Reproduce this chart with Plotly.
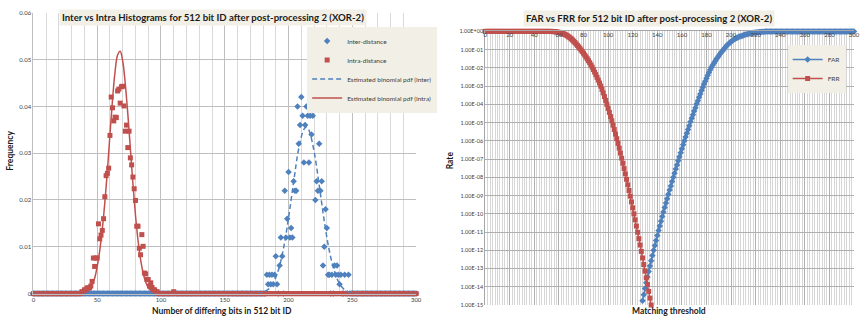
import plotly.graph_objects as go

# ---------------- data ----------------
BITS = list(range(0, 301))

# Histogram bins that are not zero (all other bins 0..300 read as 0)
INTER_NONZERO = {
    183: 0.004, 184: 0.002, 185: 0.004, 186: 0.002, 187: 0.004, 188: 0.002,
    189: 0.004, 190: 0.008, 191: 0.002, 193: 0.006, 194: 0.012, 195: 0.008,
    197: 0.022, 198: 0.012, 199: 0.016, 200: 0.026, 201: 0.012, 202: 0.014,
    203: 0.012, 204: 0.024, 205: 0.022, 206: 0.022, 207: 0.040, 208: 0.032,
    209: 0.036, 210: 0.042, 211: 0.038, 212: 0.028, 213: 0.036, 214: 0.040,
    215: 0.038, 216: 0.028, 217: 0.038, 218: 0.034, 219: 0.038, 220: 0.040,
    221: 0.020, 222: 0.024, 223: 0.022, 224: 0.032, 225: 0.022, 226: 0.024,
    227: 0.006, 228: 0.010, 229: 0.018, 230: 0.014, 231: 0.004, 232: 0.004,
    234: 0.004, 236: 0.006, 237: 0.004, 238: 0.006, 239: 0.004, 240: 0.002,
    241: 0.004, 244: 0.004, 247: 0.004,
}
INTRA_NONZERO = {
    38: 0.0004, 39: 0.0004, 40: 0.0008, 41: 0.0008, 42: 0.0012, 43: 0.0012,
    44: 0.0012, 45: 0.0016, 46: 0.0026, 47: 0.0076, 48: 0.0058, 49: 0.0076,
    50: 0.0076, 51: 0.0149, 52: 0.0117, 53: 0.0125, 54: 0.0135, 55: 0.0160,
    56: 0.0207, 57: 0.0252, 58: 0.0257, 59: 0.0268, 60: 0.0338, 61: 0.0420,
    62: 0.0397, 63: 0.0369, 64: 0.0377, 65: 0.0376, 66: 0.0433, 67: 0.0437,
    68: 0.0407, 69: 0.0442, 70: 0.0443, 71: 0.0401, 72: 0.0347, 73: 0.0360,
    74: 0.0312, 75: 0.0347, 76: 0.0290, 77: 0.0275, 78: 0.0249, 79: 0.0224,
    80: 0.0199, 81: 0.0144, 82: 0.0144, 83: 0.0097, 84: 0.0083, 85: 0.0126,
    86: 0.0101, 87: 0.0044, 88: 0.0042, 89: 0.0030, 90: 0.0030, 91: 0.0016,
    92: 0.0023, 93: 0.0013, 94: 0.0008, 95: 0.0008, 96: 0.0004, 97: 0.0004,
    110: 0.0004,
}
INTER_FREQ = [INTER_NONZERO.get(b, 0.0) for b in BITS]
INTRA_FREQ = [INTRA_NONZERO.get(b, 0.0) for b in BITS]

# Estimated binomial pdf curves
INTER_PDF_X = [0, 172, 176, 180, 184, 188, 192, 196, 200, 204, 208, 212, 214,
               216, 220, 224, 228, 232, 236, 240, 244, 248, 252, 256, 300]
INTER_PDF_Y = [0, 0.00002, 0.0001, 0.0003, 0.0009, 0.0023, 0.0050, 0.0096,
               0.0162, 0.0239, 0.0310, 0.0351, 0.0356, 0.0349, 0.0304, 0.0232,
               0.0155, 0.0091, 0.0047, 0.0021, 0.0008, 0.0003, 0.0001, 0.00002, 0]
INTRA_PDF_X = [0, 30, 36, 40, 44, 48, 50, 52, 54, 56, 58, 60, 62, 64, 66, 68,
               70, 72, 74, 76, 78, 80, 82, 84, 86, 88, 90, 94, 98, 104, 300]
INTRA_PDF_Y = [0, 0, 0.00004, 0.0002, 0.0009, 0.0033, 0.0058, 0.0092, 0.0138,
               0.0195, 0.0262, 0.0340, 0.0414, 0.0474, 0.0510, 0.0518, 0.0497,
               0.0449, 0.0384, 0.0310, 0.0235, 0.0168, 0.0114, 0.0073, 0.0044,
               0.0025, 0.0013, 0.0003, 0.00006, 0, 0]

# FAR / FRR, read as log10(rate) off the log axis
THRESHOLDS = list(range(0, 301))
FRR_LOG10 = [0.0] * 55 + [
    -0.01, -0.015, -0.02, -0.03, -0.04, -0.055, -0.07, -0.09, -0.115, -0.14,   # 55-64
    -0.17, -0.21, -0.25, -0.30, -0.35, -0.41, -0.47, -0.54, -0.61, -0.69,      # 65-74
    -0.77, -0.85, -0.93, -1.02, -1.11, -1.20, -1.30, -1.40, -1.50, -1.61,      # 75-84
    -1.72, -1.84, -1.96, -2.09, -2.23, -2.37, -2.52, -2.67, -2.83, -3.00,      # 85-94
    -3.18, -3.37, -3.57, -3.78, -4.00, -4.22, -4.44, -4.67, -4.90, -5.14,      # 95-104
    -5.38, -5.63, -5.88, -6.14, -6.40, -6.67, -6.95, -7.23, -7.52, -7.81,      # 105-114
    -8.11, -8.41, -8.72, -9.03, -9.35, -9.67, -10.00, -10.33, -10.67, -11.01,  # 115-124
    -11.36, -11.71, -12.06, -12.42, -12.78, -13.14, -13.51, -13.88, -14.25,    # 125-133
    -14.62, -15.00,                                                            # 134-135
]
FAR_START = 128
FAR_LOG10 = [
    -14.77, -14.43, -14.10, -13.78, -13.47, -13.16, -12.86, -12.57, -12.29, -12.00,  # 128-137
    -11.73, -11.46, -11.19, -10.92, -10.67, -10.41, -10.15, -9.90, -9.66, -9.41,     # 138-147
    -9.17, -8.93, -8.70, -8.47, -8.23, -8.00, -7.77, -7.55, -7.32, -7.09,            # 148-157
    -6.87, -6.65, -6.43, -6.22, -6.00, -5.79, -5.58, -5.38, -5.17, -4.96,            # 158-167
    -4.76, -4.57, -4.37, -4.18, -3.98, -3.80, -3.61, -3.43, -3.24, -3.06,            # 168-177
    -2.89, -2.73, -2.57, -2.41, -2.25, -2.10, -1.97, -1.85, -1.74, -1.63,            # 178-187
    -1.53, -1.43, -1.33, -1.24, -1.15, -1.07, -0.98, -0.90, -0.82, -0.75,            # 188-197
    -0.68, -0.62, -0.56, -0.51, -0.46, -0.42, -0.38, -0.345, -0.31, -0.285,          # 198-207
    -0.26, -0.235, -0.21, -0.19, -0.17, -0.152, -0.135, -0.12, -0.105, -0.09,        # 208-217
    -0.08, -0.07, -0.06, -0.05, -0.042, -0.035, -0.029, -0.024, -0.019, -0.015,      # 218-227
    -0.012, -0.009, -0.007, -0.005, -0.004, -0.003, -0.002, -0.0015, -0.001, -0.0007,  # 228-237
    -0.0005, -0.0003, -0.0002,                                                       # 238-240
] + [0.0] * 60                                                                       # 241-300
FRR = [10 ** v for v in FRR_LOG10]
FAR = [10 ** v for v in FAR_LOG10]
FRR_X = THRESHOLDS[:len(FRR)]
FAR_X = THRESHOLDS[FAR_START:FAR_START + len(FAR)]

RATE_TICKS = [10.0 ** (-k) for k in range(0, 16)]
RATE_LABELS = ["1.00E+00"] + ["1.00E-%02d" % k for k in range(1, 16)]

# ---------------- styling ----------------
BLUE = "#4F81BD"
RED = "#C0504D"
BEIGE = "#F2F0E6"
FONT = "Lato"
TICKC = "#404040"

fig = go.Figure()

fig.add_trace(go.Scatter(x=BITS, y=INTER_FREQ, mode="markers", name="Inter-distance",
                         marker=dict(symbol="diamond", size=5, color=BLUE),
                         cliponaxis=False, xaxis="x", yaxis="y", legend="legend"))
fig.add_trace(go.Scatter(x=BITS, y=INTRA_FREQ, mode="markers", name="Intra-distance",
                         marker=dict(symbol="square", size=5, color=RED),
                         cliponaxis=False, xaxis="x", yaxis="y", legend="legend"))
fig.add_trace(go.Scatter(x=INTER_PDF_X, y=INTER_PDF_Y, mode="lines",
                         name="Estimated binomial pdf (Inter)",
                         line=dict(color=BLUE, width=1.5, dash="5px,3px", shape="spline"),
                         xaxis="x", yaxis="y", legend="legend"))
fig.add_trace(go.Scatter(x=INTRA_PDF_X, y=INTRA_PDF_Y, mode="lines",
                         name="Estimated binomial pdf (Intra)",
                         line=dict(color=RED, width=1.5, shape="spline"),
                         xaxis="x", yaxis="y", legend="legend"))

fig.add_trace(go.Scatter(x=FAR_X, y=FAR, mode="lines+markers", name="FAR",
                         line=dict(color=BLUE, width=1.5),
                         marker=dict(symbol="diamond", size=5, color=BLUE),
                         cliponaxis=False, xaxis="x2", yaxis="y2", legend="legend2"))
fig.add_trace(go.Scatter(x=FRR_X, y=FRR, mode="lines+markers", name="FRR",
                         line=dict(color=RED, width=1.5),
                         marker=dict(symbol="square", size=5, color=RED),
                         cliponaxis=False, xaxis="x2", yaxis="y2", legend="legend2"))

W, H = 863, 323
fig.update_layout(
    width=W, height=H, margin=dict(l=0, r=0, t=0, b=0),
    paper_bgcolor="white", plot_bgcolor="white",
    font=dict(family=FONT, size=7, color=TICKC),
    xaxis=dict(domain=[31.7 / W, 418 / W], range=[0, 300], dtick=50, anchor="y",
               showgrid=True, gridcolor="#BFBFBF", gridwidth=1,
               minor=dict(dtick=10, showgrid=True, gridcolor="#D9D9D9"),
               zeroline=False, showline=True, linecolor="#BFBFBF",
               tickfont=dict(size=6, color=TICKC), ticks=""),
    yaxis=dict(domain=[1 - 296 / H, 1 - 9 / H], range=[0, 0.06], dtick=0.01, anchor="x",
               showgrid=True, gridcolor="#BFBFBF", zeroline=False,
               showline=True, linecolor="#BFBFBF",
               tickfont=dict(size=6, color=TICKC), ticks=""),
    xaxis2=dict(domain=[487.7 / W, 860 / W], range=[0, 300], dtick=20, anchor="y2",
                side="top", ticklabelposition="inside", ticklabeloverflow="allow",
                showgrid=True, gridcolor="#B0B0B0",
                minor=dict(dtick=2, showgrid=True, gridcolor="#D6D6D6"),
                zeroline=False, showline=True, linecolor="#A6A6A6",
                tickfont=dict(size=6, color=TICKC), ticks=""),
    yaxis2=dict(domain=[1 - 307.7 / H, 1 - 28 / H], type="log", range=[-15, 0], anchor="x2",
                tickvals=RATE_TICKS, ticktext=RATE_LABELS,
                showgrid=True, gridcolor="#B0B0B0", zeroline=False,
                showline=True, linecolor="#A6A6A6",
                tickfont=dict(size=5.5, color=TICKC), ticks=""),
    legend=dict(x=308 / W, y=1 - 23 / H, xanchor="left", yanchor="top",
                bgcolor=BEIGE, font=dict(size=6.5, color=TICKC, family=FONT),
                itemwidth=30, tracegroupgap=0),
    legend2=dict(x=793 / W, y=1 - 42 / H, xanchor="left", yanchor="top",
                 bgcolor=BEIGE, font=dict(size=6.5, color=TICKC, family=FONT),
                 itemwidth=30, tracegroupgap=0),
    showlegend=True,
)

titles = [
    ("<b>Inter vs Intra Histograms for 512 bit ID after post-processing 2 (XOR-2)</b>", 213, 14),
    ("<b>FAR vs FRR for 512 bit ID after post-processing 2 (XOR-2)</b>", 653, 15),
]
for text, px, py in titles:
    fig.add_annotation(text=text, x=px / W, y=1 - py / H, xref="paper", yref="paper",
                       showarrow=False, bgcolor=BEIGE, borderpad=2,
                       xanchor="center", yanchor="middle",
                       font=dict(size=9.6, color="#1a1a1a", family=FONT))

axis_titles = [
    ("<b>Number of differing bits in 512 bit ID</b>", 222, 314, 0),
    ("<b>Frequency</b>", 8, 150, -90),
    ("<b>Matching threshold</b>", 673, 314, 0),
    ("<b>Rate</b>", 452, 160, -90),
]
for text, px, py, ang in axis_titles:
    fig.add_annotation(text=text, x=px / W, y=1 - py / H, xref="paper", yref="paper",
                       showarrow=False, textangle=ang,
                       xanchor="center", yanchor="middle",
                       font=dict(size=8.5, color="#1a1a1a", family=FONT))

fig.write_html("out.html", config={"displayModeBar": False},
               post_script="document.body.style.margin='0px';")
